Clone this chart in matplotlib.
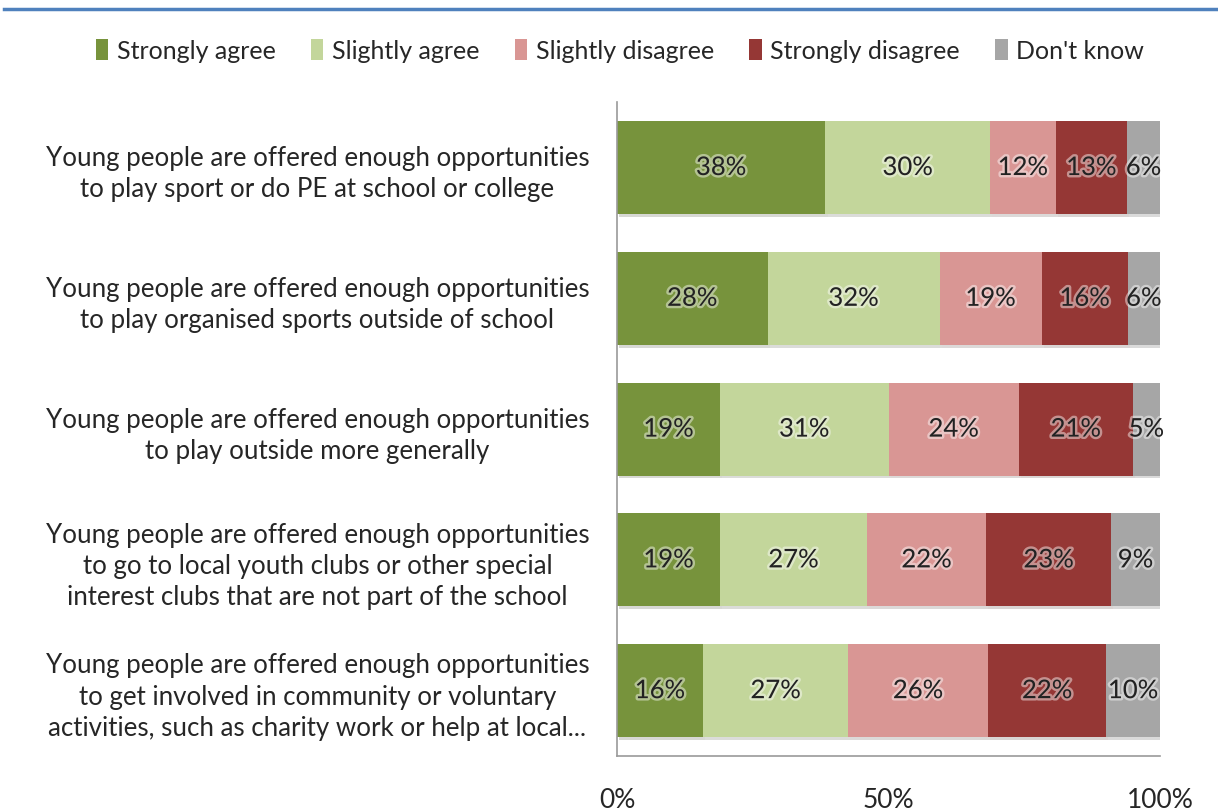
import numpy as np
import matplotlib.pyplot as plt
import matplotlib.patheffects as pe

plt.rcParams['font.family'] = ['Lato', 'DejaVu Sans']

statements = [
    "Young people are offered enough opportunities\nto play sport or do PE at school or college",
    "Young people are offered enough opportunities\nto play organised sports outside of school",
    "Young people are offered enough opportunities\nto play outside more generally",
    "Young people are offered enough opportunities\nto go to local youth clubs or other special\ninterest clubs that are not part of the school",
    "Young people are offered enough opportunities\nto get involved in community or voluntary\nactivities, such as charity work or help at local...",
]
responses = ["Strongly agree", "Slightly agree", "Slightly disagree",
             "Strongly disagree", "Don't know"]
strongly_agree = [38, 28, 19, 19, 16]
slightly_agree = [30, 32, 31, 27, 27]
slightly_disagree = [12, 19, 24, 22, 26]
strongly_disagree = [13, 16, 21, 23, 22]
dont_know = [6, 6, 5, 9, 10]
colors = ["#77933C", "#C3D69B", "#D99694", "#953735", "#A6A6A6"]

vals = np.array([strongly_agree, slightly_agree, slightly_disagree,
                 strongly_disagree, dont_know], dtype=float)
# 100% stacked: scale each row to its total
shares = vals / vals.sum(axis=0) * 100

fig = plt.figure(figsize=(12.18, 8.12), dpi=100)
ax = fig.add_axes([0.5066, 0.0677, 0.4458, 0.8053])

y = np.arange(len(statements))
left = np.zeros(len(statements))
glow = [pe.withStroke(linewidth=3.5, foreground="white", alpha=0.45)]
shadow = [pe.SimplePatchShadow(offset=(1.5, -2), alpha=0.18), pe.Normal()]
for i in range(len(responses)):
    bars = ax.barh(y, shares[i], left=left, height=0.71, color=colors[i],
                   label=responses[i], zorder=2)
    for b in bars:
        b.set_path_effects(shadow)
    for j in range(len(statements)):
        ax.text(left[j] + shares[i][j] / 2, y[j], "%d%%" % vals[i][j],
                ha="center", va="center", fontsize=18.5, color="#222222",
                path_effects=glow, zorder=3)
    left += shares[i]

ax.set_xlim(0, 100)
ax.set_ylim(len(statements) - 0.5, -0.5)
ax.set_xticks([0, 50, 100])
ax.set_xticklabels(["0%", "50%", "100%"])
ax.set_yticks(y)
ax.set_yticklabels(statements)
for lab in ax.get_yticklabels():
    lab.set_multialignment("center")
    lab.set_linespacing(1.32)
ax.tick_params(axis="x", length=0, pad=22, labelsize=19, colors="#262626")
ax.tick_params(axis="y", length=0, pad=20, labelsize=18.6, colors="#262626")
for s in ["top", "right"]:
    ax.spines[s].set_visible(False)
for s in ["left", "bottom"]:
    ax.spines[s].set_color("#9a9a9a")
    ax.spines[s].set_linewidth(1.2)

leg = fig.legend(loc="center", bbox_to_anchor=(0.509, 0.936), ncol=5,
                 frameon=False, fontsize=18, handlelength=0.5, handleheight=0.9,
                 handletextpad=0.35, columnspacing=1.4, labelcolor="#262626")
for h in leg.legend_handles:
    h.set_path_effects([])

# blue rule across the top
fig.add_artist(plt.Line2D([0.003, 1], [0.988, 0.988], color="#4F81BD",
                          linewidth=2.5, transform=fig.transFigure))

fig.savefig("out.png", dpi=100)
